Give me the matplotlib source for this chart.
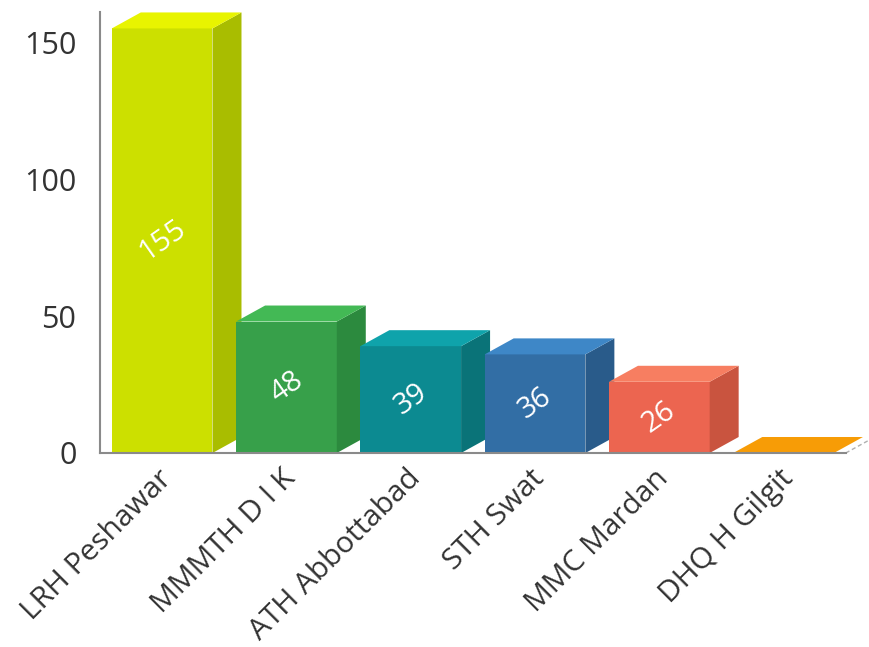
import matplotlib
matplotlib.use("Agg")
import matplotlib.pyplot as plt
from matplotlib.patches import Polygon

categories = ["LRH Peshawar", "MMMTH D I K", "ATH Abbottabad", "STH Swat", "MMC Mardan", "DHQ H Gilgit"]
values = [155, 48, 39, 36, 26, 0]
front_colors = ["#cce000", "#37a04a", "#0c8a91", "#326ea5", "#ec6550", "#f09000"]
side_colors = ["#a9bd00", "#2c8a3e", "#0a7378", "#295b8a", "#c9543f", "#d07c00"]
top_colors = ["#e8f400", "#43b955", "#0fa3ab", "#3e87c7", "#f77e61", "#f79c06"]
yticks = [0, 50, 100, 150]

plt.rcParams['font.family'] = ['Open Sans', 'DejaVu Sans']

fig = plt.figure(figsize=(8.7, 6.47), dpi=100)
ax = fig.add_axes([100/870, 194/647, 770/870, (647-12-194)/647])
ax.set_xlim(-0.5, 5.695)
ax.set_ylim(0, 161)

w = 0.81
dx = 29/124.3
dy = 16/2.74

for i, v in enumerate(values):
    l, r = i - w/2, i + w/2
    ax.add_patch(Polygon([(l, 0), (r, 0), (r, v), (l, v)], closed=True,
                         facecolor=front_colors[i], edgecolor='none', clip_on=False, zorder=3))
    ax.add_patch(Polygon([(r, 0), (r+dx, dy), (r+dx, v+dy), (r, v)], closed=True,
                         facecolor=side_colors[i], edgecolor='none', clip_on=False, zorder=3))
    ax.add_patch(Polygon([(l, v), (r, v), (r+dx, v+dy), (l+dx, v+dy)], closed=True,
                         facecolor=top_colors[i], edgecolor='none', clip_on=False, zorder=3))
    if v > 0:
        ax.text(i, v/2, str(v), rotation=35, color='white', fontsize=21,
                ha='center', va='center', zorder=5)

for s in ['top', 'right', 'bottom']:
    ax.spines[s].set_visible(False)
ax.spines['left'].set_color('#8a8a8a')
ax.spines['left'].set_linewidth(1.5)
ax.plot([-0.5, 5.5], [0, 0], color='#8a8a8a', lw=1.5, zorder=4, clip_on=False)
ax.plot([5.5, 5.5+dx], [0, dy], color='#b0b0b0', lw=1.0, ls=(0, (3, 2)), zorder=2, clip_on=False)

ax.set_yticks(yticks)
ax.set_yticklabels([str(t) for t in yticks], fontsize=22, color='#333333')
ax.tick_params(axis='y', length=0, pad=17)

ax.set_xticks([i - 0.04 for i in range(len(categories))])
ax.set_xticklabels(categories, rotation=45, ha='right', va='top',
                   rotation_mode='anchor', fontsize=21.5, color='#333333')
ax.tick_params(axis='x', length=0, pad=8)

fig.savefig("out.png", dpi=100, facecolor='white')
